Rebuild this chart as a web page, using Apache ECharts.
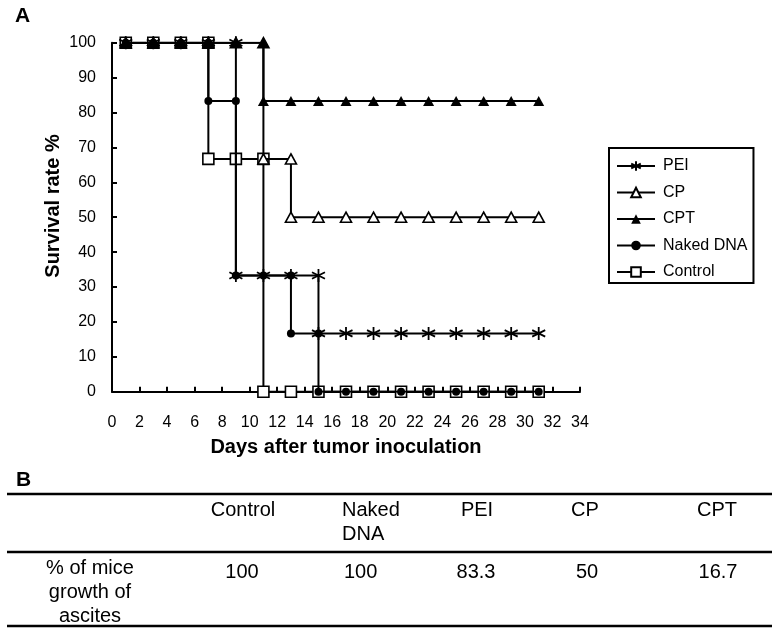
<!DOCTYPE html>
<html>
<head>
<meta charset="utf-8">
<script src="https://cdn.jsdelivr.net/npm/echarts@6/dist/echarts.min.js"></script>
<style>
html,body{margin:0;padding:0;background:#fff;}
#chart{width:775px;height:635px;}
</style>
</head>
<body>
<div id="chart"></div>
<script>
// ---- Data ----
const seriesNames = ['PEI', 'CP', 'CPT', 'Naked DNA', 'Control'];

const peiDays   = [1,3,5,7,9,9,11,13,15,15,17,19,21,23,25,27,29,31];
const peiValues = [100,100,100,100,100,33.3,33.3,33.3,33.3,16.7,16.7,16.7,16.7,16.7,16.7,16.7,16.7,16.7];

const cpDays   = [1,3,5,7,9,11,11,13,13,15,17,19,21,23,25,27,29,31];
const cpValues = [100,100,100,100,100,100,66.7,66.7,50,50,50,50,50,50,50,50,50,50];

const cptDays   = [1,3,5,7,9,11,11,13,15,17,19,21,23,25,27,29,31];
const cptValues = [100,100,100,100,100,100,83.3,83.3,83.3,83.3,83.3,83.3,83.3,83.3,83.3,83.3,83.3];

const nakedDays   = [1,3,5,7,7,9,9,11,13,13,15,15,17,19,21,23,25,27,29,31];
const nakedValues = [100,100,100,100,83.3,83.3,33.3,33.3,33.3,16.7,16.7,0,0,0,0,0,0,0,0,0];

const controlDays   = [1,3,5,7,7,9,11,11,13,15,17,19,21,23,25,27,29,31];
const controlValues = [100,100,100,100,66.7,66.7,66.7,0,0,0,0,0,0,0,0,0,0,0];

const xTicks = {min: 0, max: 34, interval: 2};
const yTicks = {min: 0, max: 100, interval: 10};

const tableHeaders = ['Control', 'Naked\nDNA', 'PEI', 'CP', 'CPT'];
const tableRowLabel = '% of mice\ngrowth of\nascites';
const tableValues = ['100', '100', '83.3', '50', '16.7'];

// ---- Helpers ----
function pairs(xs, ys) { return xs.map((x, i) => [x, ys[i]]); }

const FONT = "'Liberation Sans', Arial, sans-serif";
const asterisk = 'path://M5,0L5,10M0.67,2.5L9.33,7.5M0.67,7.5L9.33,2.5';

const chart = echarts.init(document.getElementById('chart'), null, {renderer: 'canvas'});

const baseLine = {color: '#000', width: 2};

const series = [
  {
    name: 'Control', type: 'line', z: 1,
    data: pairs(controlDays, controlValues),
    symbol: 'rect', symbolSize: 11,
    itemStyle: {color: '#fff', borderColor: '#000', borderWidth: 1.6},
    lineStyle: baseLine
  },
  {
    name: 'Naked DNA', type: 'line',
    data: pairs(nakedDays, nakedValues),
    symbol: 'circle', symbolSize: 8,
    itemStyle: {color: '#000', borderColor: '#000', borderWidth: 0},
    lineStyle: baseLine
  },
  {
    name: 'CP', type: 'line',
    data: pairs(cpDays, cpValues),
    symbol: 'triangle', symbolSize: [11, 10],
    itemStyle: {color: '#fff', borderColor: '#000', borderWidth: 1.6},
    lineStyle: baseLine
  },
  {
    name: 'CPT', type: 'line',
    data: pairs(cptDays, cptValues),
    symbol: 'triangle', symbolSize: [11, 10],
    itemStyle: {color: '#000', borderColor: '#000', borderWidth: 0},
    lineStyle: baseLine
  },
  {
    name: 'PEI', type: 'line',
    data: pairs(peiDays, peiValues),
    symbol: asterisk, symbolSize: 13,
    itemStyle: {color: '#000', borderColor: '#000', borderWidth: 1.8},
    lineStyle: baseLine
  }
];

// table graphics
const colX = [243, 342, 477, 585, 717];
const colAlign = ['center', 'left', 'center', 'center', 'center'];
const valX = [242, 344, 476, 587, 718];
const valAlign = ['center', 'left', 'center', 'center', 'center'];

const graphics = [
  {type: 'text', left: 15, top: 6, style: {text: 'A', font: "bold 21px " + FONT, fill: '#000'}},
  {type: 'text', x: 53, y: 206, rotation: Math.PI / 2,
   style: {text: 'Survival rate %', font: "bold 20px " + FONT, fill: '#000', align: 'center', verticalAlign: 'middle'}},
  {type: 'text', left: 16, top: 470, style: {text: 'B', font: "bold 21px " + FONT, fill: '#000'}},
  {type: 'line', shape: {x1: 7, y1: 494, x2: 772, y2: 494}, style: {stroke: '#000', lineWidth: 2.5}},
  {type: 'line', shape: {x1: 7, y1: 552, x2: 772, y2: 552}, style: {stroke: '#000', lineWidth: 2.5}},
  {type: 'line', shape: {x1: 7, y1: 626, x2: 772, y2: 626}, style: {stroke: '#000', lineWidth: 2.5}},
  {type: 'text', x: 90, y: 556,
   style: {text: tableRowLabel, font: "20px " + FONT, lineHeight: 24, fill: '#000', align: 'center', verticalAlign: 'top'}}
];
tableHeaders.forEach((h, i) => {
  graphics.push({type: 'text', x: colX[i], y: 498,
    style: {text: h, font: "20px " + FONT, lineHeight: 24, fill: '#000', align: colAlign[i], verticalAlign: 'top'}});
});
tableValues.forEach((v, i) => {
  graphics.push({type: 'text', x: valX[i], y: 560,
    style: {text: v, font: "20px " + FONT, lineHeight: 24, fill: '#000', align: valAlign[i], verticalAlign: 'top'}});
});

const option = {
  animation: false,
  backgroundColor: '#fff',
  grid: {left: 112, right: 195, top: 42.7, height: 349, containLabel: false},
  legend: {
    data: seriesNames,
    orient: 'vertical',
    left: 609, top: 148,
    itemWidth: 38, itemHeight: 12, itemGap: 10.5,
    padding: [10, 6, 3, 7],
    borderColor: '#000', borderWidth: 2,
    textStyle: {fontSize: 16, color: '#000', fontFamily: FONT, padding: [0, 0, 0, 3]}
  },
  xAxis: {
    type: 'value', min: xTicks.min, max: xTicks.max, interval: xTicks.interval,
    name: 'Days after tumor inoculation', nameLocation: 'middle', nameGap: 46,
    nameTextStyle: {fontSize: 20, fontWeight: 'bold', color: '#000', fontFamily: FONT},
    axisLine: {lineStyle: {color: '#000', width: 2}},
    axisTick: {inside: true, length: 5, lineStyle: {color: '#000', width: 2}},
    axisLabel: {fontSize: 16, color: '#000', fontFamily: FONT, margin: 23},
    splitLine: {show: false}
  },
  yAxis: {
    type: 'value', min: yTicks.min, max: yTicks.max, interval: yTicks.interval,
    axisLine: {show: true, lineStyle: {color: '#000', width: 2}},
    axisTick: {show: true, inside: true, length: 5, lineStyle: {color: '#000', width: 2}},
    axisLabel: {fontSize: 16, color: '#000', fontFamily: FONT, margin: 16},
    splitLine: {show: false}
  },
  graphic: graphics,
  series: series
};
chart.setOption(option);
</script>
</body>
</html>
